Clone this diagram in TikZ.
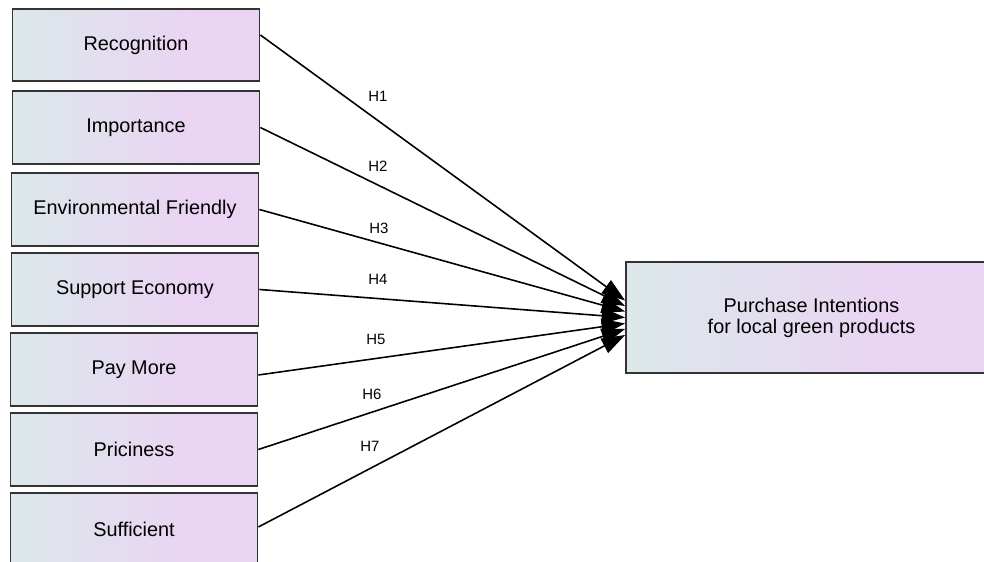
\documentclass[tikz,border=0pt]{standalone}
\usepackage{fontspec}
\setmainfont{Liberation Sans}
\usetikzlibrary{arrows.meta, calc}

\definecolor{boxleft}{HTML}{DCE8EA}
\definecolor{boxright}{HTML}{EAD4F3}

\tikzset{
  % fill fades from blue-grey to lilac over the first three quarters
  fade/.style={path picture={
    \path (path picture bounding box.south west) coordinate (sw) (path picture bounding box.north east) coordinate (ne);
    \foreach \i [evaluate=\i as \p using {min(100, \i*100/29)}] in {0,...,39}
      {\fill [boxright!\p!boxleft] ($(sw)!{\i/40}!(ne|-sw)$) rectangle ($(sw|-ne)!{(\i+1.5)/40}!(ne)$);}
  }},
  factor/.style={draw=black!80, line width=1pt, fade,
    minimum width=4.94cm, minimum height=1.45cm, inner sep=0pt, font=\fontsize{11.3}{12}\selectfont},
  hyp/.style={line width=0.9pt, -{Triangle[length=0.47cm, width=0.32cm]}},
  hlabel/.style={font=\fontsize{8.5}{10}\selectfont}
}

\begin{document}
\begin{tikzpicture}
\useasboundingbox (0, 0) rectangle (19.68, 11.24);
% seven factors on the left
\node [factor] (rec) at (2.72, 10.34) {Recognition};
\node [factor] (imp) at (2.72, 8.69) {Importance};
\node [factor] (env) at (2.70, 7.05) {Environmental Friendly};
\node [factor] (sup) at (2.70, 5.45) {Support Economy};
\node [factor] (pay) at (2.68, 3.85) {Pay More};
\node [factor] (pri) at (2.68, 2.25) {Priciness};
\node [factor] (suf) at (2.68, 0.65) {Sufficient};
% outcome
\node [factor, minimum width=7.42cm, minimum height=2.22cm, align=center, font=\fontsize{11.3}{11.9}\selectfont]
  (pi) at (16.23, 4.89) {Purchase Intentions\\for local green products};
% paths
\foreach \n/\s/\t in {rec/0.2/0.34, imp/0/0.23, env/0/0.12, sup/0/0, pay/-0.11/-0.12, pri/0/-0.23, suf/0.05/-0.35}{\draw [hyp] ([yshift=\s cm]\n.east) -- ([yshift=\t cm]pi.west);}
\node [hlabel] (h1) at (7.56, 9.32) {H1};
\node [hlabel] (h2) at (7.56, 7.92) {H2};
\node [hlabel] (h3) at (7.58, 6.68) {H3};
\node [hlabel] (h4) at (7.56, 5.66) {H4};
\node [hlabel] (h5) at (7.52, 4.46) {H5};
\node [hlabel] (h6) at (7.44, 3.36) {H6};
\node [hlabel] (h7) at (7.40, 2.32) {H7};
\end{tikzpicture}
\end{document}
